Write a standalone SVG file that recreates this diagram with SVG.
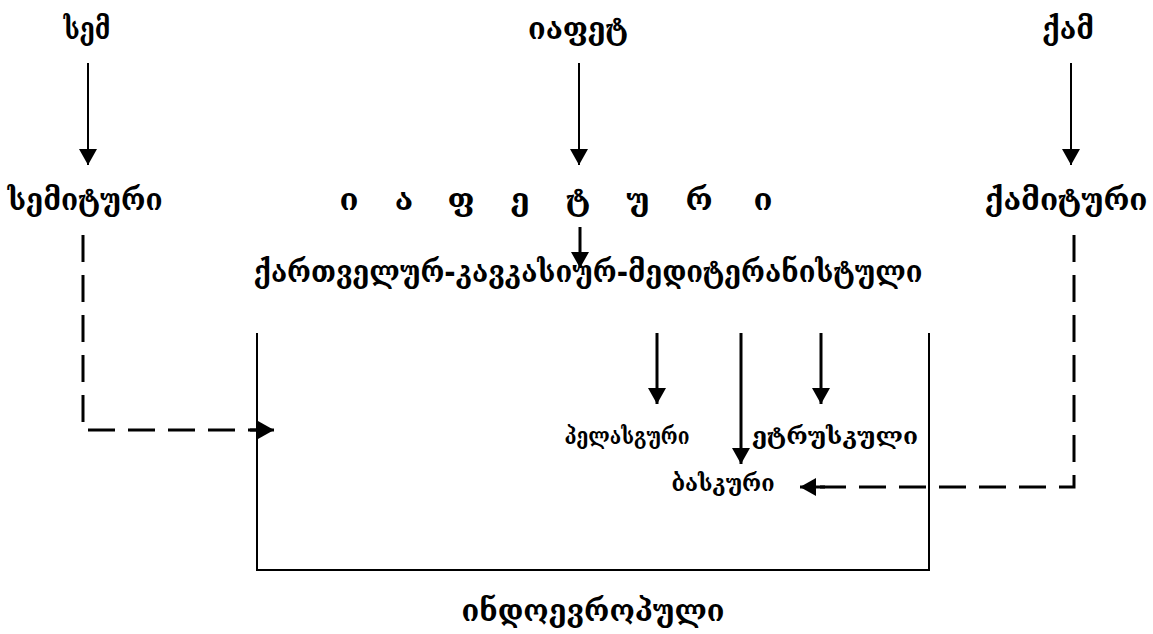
<svg xmlns="http://www.w3.org/2000/svg" width="1153" height="634" viewBox="0 0 1153 634">
<defs>
<style>
.t{font-family:"DejaVu Serif","DejaVu Sans",serif;font-weight:bold;fill:#000;text-anchor:middle}
.big{font-size:31px}
.sm{font-size:24px}
.ln{stroke:#000;stroke-width:2;fill:none}
.ln3{stroke:#000;stroke-width:3;fill:none}
.dash{stroke:#000;stroke-width:3;fill:none;stroke-dasharray:27 13}
</style>
<marker id="ahA" viewBox="0 0 16 18" refX="16" refY="9" markerWidth="16" markerHeight="18" markerUnits="userSpaceOnUse" orient="auto">
<path d="M0,0 L16,9 L0,18 Z" fill="#000"/>
</marker>
</defs>
<g id="connectors">
<path class="ln" d="M88,63 V165" marker-end="url(#ahA)"/>
<path class="ln" d="M579,63 V165" marker-end="url(#ahA)"/>
<path class="ln" d="M1071,63 V165" marker-end="url(#ahA)"/>
<path class="ln3" d="M580,227 V268" marker-end="url(#ahA)"/>
<path class="ln" d="M257,333 V570 H929 V333"/>
<path class="ln3" d="M657,333 V404" marker-end="url(#ahA)"/>
<path class="ln3" d="M741,333 V464" marker-end="url(#ahA)"/>
<path class="ln3" d="M821,333 V404" marker-end="url(#ahA)"/>
<path class="dash" d="M83,235 V430 H258"/>
<path class="ln3" d="M250,430 H274" marker-end="url(#ahA)"/>
<path class="dash" d="M1074,235 V487 H820"/>
<path class="ln3" d="M825,487 H800" marker-end="url(#ahA)"/>
</g>
<g id="sem"><text class="t big" x="87" y="39" textLength="47" lengthAdjust="spacingAndGlyphs">სემ</text></g>
<g id="iapet"><text class="t big" x="578" y="39" textLength="100" lengthAdjust="spacingAndGlyphs">იაფეტ</text></g>
<g id="kam"><text class="t big" x="1068" y="39" textLength="52" lengthAdjust="spacingAndGlyphs">ქამ</text></g>
<g id="semituri"><text class="t big" x="85" y="210" textLength="155" lengthAdjust="spacingAndGlyphs">სემიტური</text></g>
<g id="iapeturi"><text class="t big" x="349 404 461 520 578 638 699 763" y="210">იაფეტური</text></g>
<g id="kamituri"><text class="t big" x="1066" y="210" textLength="163" lengthAdjust="spacingAndGlyphs">ქამიტური</text></g>
<g id="kartveluri"><text class="t big" x="588" y="282" textLength="669" lengthAdjust="spacingAndGlyphs">ქართველურ-კავკასიურ-მედიტერანისტული</text></g>
<g id="pelasguri"><text class="t sm" x="627" y="444" textLength="125" lengthAdjust="spacingAndGlyphs">პელასგური</text></g>
<g id="etruskuli"><text class="t sm" x="835" y="444" textLength="166" lengthAdjust="spacingAndGlyphs">ეტრუსკული</text></g>
<g id="baskuri"><text class="t sm" x="723" y="491" textLength="103" lengthAdjust="spacingAndGlyphs">ბასკური</text></g>
<g id="indoevropuli"><text class="t big" x="593" y="621" textLength="263" lengthAdjust="spacingAndGlyphs">ინდოევროპული</text></g>
</svg>
